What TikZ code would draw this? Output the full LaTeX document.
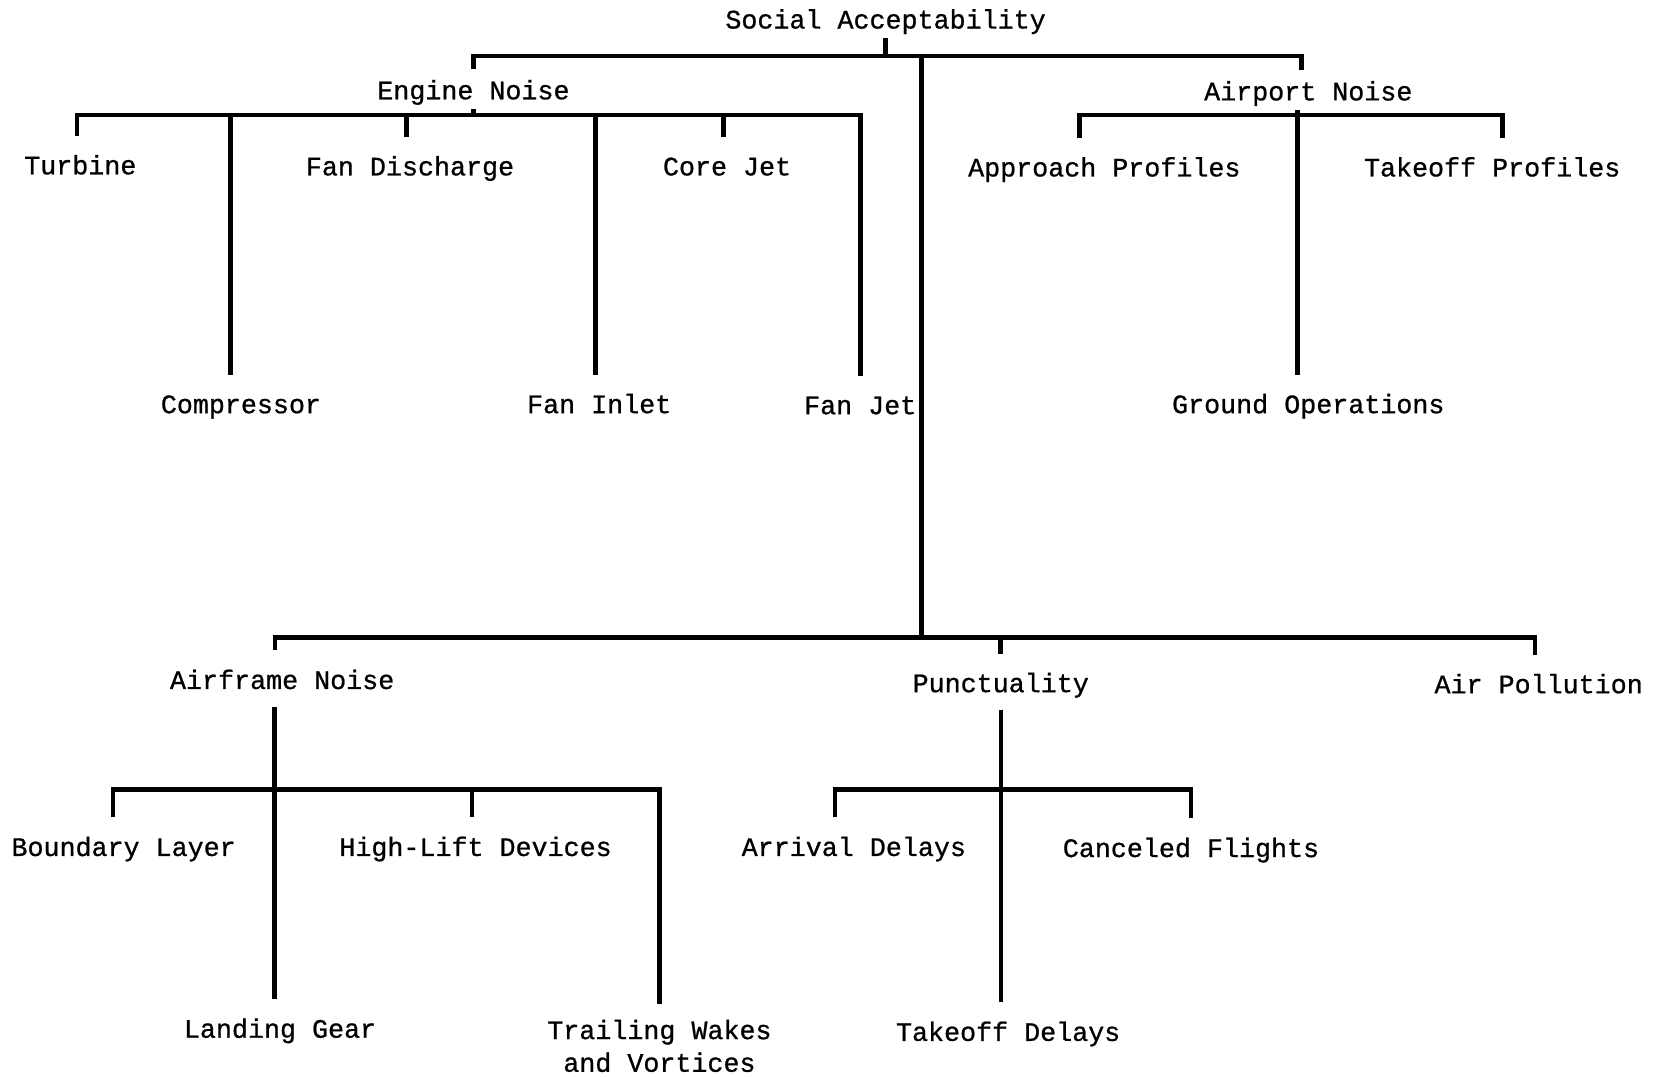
\documentclass[tikz,border=0pt]{standalone}
\usepackage{fontspec}
\setmainfont{Liberation Mono}[FakeBold=0.8]
\usepackage{tikz}
\tikzset{
	lbl/.style={font=\fontsize{7.6}{9.3}\selectfont,inner xsep=0pt,inner ysep=4.3pt,text height=6.5pt,text depth=0.5pt},
	hd/.style={lbl,inner ysep=2pt},
	link/.style={line width=1.3pt}
}

\begin{document}
\begin{tikzpicture}[x=0.010568cm,y=-0.010568cm]
			\useasboundingbox (0,0) rectangle (1568,1019);
			\node[hd] (soc) at (838,17) {Social Acceptability};
			\node[hd] (eng) at (448,84) {Engine Noise};
			\node[hd] (air) at (1238,85) {Airport Noise};
			\node[lbl] (tur) at (76,155) {Turbine};
			\node[lbl] (com) at (228,381) {Compressor};
			\node[lbl] (fds) at (388,156) {Fan Discharge};
			\node[lbl] (fin) at (567,381) {Fan Inlet};
			\node[lbl] (cjt) at (688,156) {Core Jet};
			\node[lbl] (fjt) at (814,382) {Fan Jet};
			\node[lbl] (app) at (1045,157) {Approach Profiles};
			\node[lbl] (tkp) at (1412,157) {Takeoff Profiles};
			\node[lbl] (gop) at (1238,381) {Ground Operations};
			\node[lbl] (afn) at (267,642) {Airframe Noise};
			\node[lbl] (pun) at (947,645) {Punctuality};
			\node[lbl] (apo) at (1456,646) {Air Pollution};
			\node[lbl] (bly) at (117,800) {Boundary Layer};
			\node[lbl] (hld) at (450,800) {High-Lift Devices};
			\node[lbl] (lgr) at (265,972) {Landing Gear};
			\node[lbl,text height=,text depth=,align=center,anchor=north] (twv) at (624,950) {Trailing Wakes\\and Vortices};
			\node[lbl] (arr) at (808,800) {Arrival Delays};
			\node[lbl] (cfl) at (1127,801) {Canceled Flights};
			\node[lbl] (tod) at (954,975) {Takeoff Delays};
			\coordinate (topbar) at (0,53);
			\coordinate (engbar) at (0,109);
			\coordinate (aptbar) at (0,109);
			\coordinate (hub) at (872,603);
			\coordinate (afbar) at (0,747);
			\coordinate (pnbar) at (0,747);
			\draw[link] (soc.south) -- (soc.south |- topbar);
			\draw[link] (eng.north) |- ([xshift=-2pt]air.north |- topbar) -- ([xshift=-2pt]air.north);
			\draw[link] (hub |- topbar) -- (hub);
			\draw[link] (eng.south) -- (eng.south |- engbar);
			\draw[link] ([xshift=-1pt]tur.north) |- (fjt.north |- engbar) -- (fjt.north);
			\draw[link] ([xshift=-3pt]com.north) -- ([xshift=-3pt]com.north |- engbar);
			\foreach \n in {fds,fin,cjt}
				\draw[link] ([xshift=-1pt]\n.north) -- ([xshift=-1pt]\n.north |- engbar);
			\draw[link] ([xshift=-3pt]gop.north |- air.south) -- ([xshift=-3pt]gop.north);
			\draw[link] ([xshift=-7pt]app.north) |- ([xshift=3pt]tkp.north |- aptbar) -- ([xshift=3pt]tkp.north);
			\draw[link] ([xshift=-2pt]afn.north) |- ([xshift=-1pt]apo.north |- hub) -- ([xshift=-1pt]apo.north);
			\draw[link] (pun.north) -- (pun.north |- hub);
			\draw[link] ([xshift=-1.5pt]lgr.north |- afn.south) -- ([xshift=-1.5pt]lgr.north);
			\draw[link] ([xshift=-3pt]bly.north) |- (twv.north |- afbar) -- (twv.north);
			\draw[link] ([xshift=-1pt]hld.north) -- ([xshift=-1pt]hld.north |- afbar);
			\draw[link] ([xshift=-2pt]tod.north |- pun.south) -- ([xshift=-2pt]tod.north);
			\draw[link] ([xshift=-5.4pt]arr.north) |- (cfl.north |- pnbar) -- (cfl.north);
		\end{tikzpicture}
\end{document}
